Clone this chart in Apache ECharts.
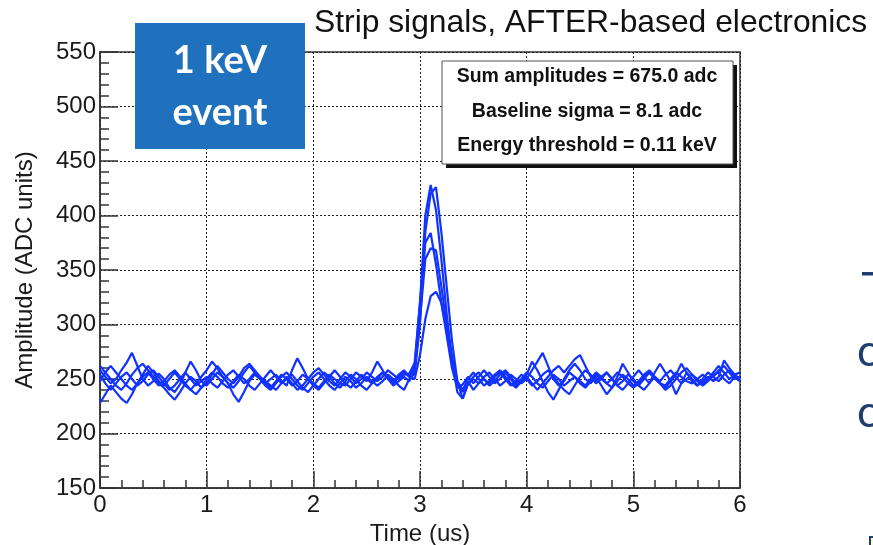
<!DOCTYPE html>
<html>
<head>
<meta charset="utf-8">
<script src="https://cdn.jsdelivr.net/npm/echarts@6/dist/echarts.min.js"></script>
<style>
html,body{margin:0;padding:0;background:#fff;}
#chart{width:873px;height:545px;}
</style>
</head>
<body>
<div id="chart"></div>
<script>
// Sampling step of the digitised strip signals (us)
const sampleStep = 0.05;
const xTicks = [0, 1, 2, 3, 4, 5, 6];
const yTicks = [150, 200, 250, 300, 350, 400, 450, 500, 550];

const stripA = [258,252,246,250,258,265,274,262,250,244, 248,255,250,242,238,245,256,266,258,248,
  244,250,256,252,246,242,248,256,262,256, 250,246,250,254,248,244,258,269,260,250,
  246,242,248,254,250,246,244,250,256,252, 248,256,266,258,250,246,252,256,
  252,262,320,400,428,405,360,310,268,238,232,246,
  250,246,252,256,250,244,248,254,250,246, 250,258,266,274,262,250,244,248,256,252,
  246,242,248,254,250,246,250,256,252,246, 242,246,252,256,250,246,244,250,256,252,
  248,246,250,254,250,252,258,262,256,250, 252];
const stripB = [228,236,244,238,232,228,236,246,254,262, 256,248,244,250,256,250,244,240,246,252,
  258,266,260,252,246,236,229,238,248,254, 250,244,240,246,252,256,250,244,240,246,
  252,256,250,244,240,246,252,248,242,246, 252,248,244,248,254,250,244,240,
  250,255,300,385,420,426,385,335,285,248,240,250,
  256,250,244,248,254,258,252,246,242,248, 254,266,258,248,238,231,240,250,258,264,
  258,250,246,252,244,236,242,252,264,256, 248,244,250,256,252,246,240,244,250,256,
  260,254,248,244,248,254,256,250,246,252, 248];
const stripC = [262,256,250,244,240,246,254,260,264,258, 252,246,242,236,231,238,246,252,248,242,
  246,254,262,256,250,246,252,260,264,258, 252,248,244,240,246,252,246,240,244,250,
  256,260,254,248,244,250,256,252,246,250, 256,252,248,252,258,254,250,254,
  255,265,320,375,384,355,320,290,260,242,245,252,
  246,252,258,252,246,250,256,250,244,248, 252,246,240,246,252,258,262,256,262,268,
  272,262,252,246,250,256,250,244,240,246, 252,258,252,246,256,264,256,248,236,246,
  256,250,244,248,252,248,252,267,260,254, 256];
const stripD = [248,256,262,256,250,244,240,246,252,256, 250,244,248,254,258,252,246,240,236,242,
  250,256,252,246,242,248,254,250,244,240, 246,252,258,252,246,250,254,248,242,238,
  244,250,256,252,246,242,248,254,250,244, 240,246,252,256,250,244,248,252,
  248,258,305,360,370,368,335,300,268,246,238,248,
  240,246,250,246,252,256,250,244,248,254, 250,244,248,254,258,252,246,240,236,244,
  252,258,254,248,252,256,250,244,248,254, 250,244,240,246,252,248,254,258,252,246,
  250,254,250,246,250,256,262,256,250,254, 250];
const stripE = [254,246,240,246,252,256,250,244,248,254, 258,252,246,240,244,250,256,250,244,248,
  252,246,242,248,254,258,252,246,250,256, 252,246,242,248,254,250,244,248,254,250,
  244,240,246,252,258,252,246,242,248,254, 250,246,250,256,252,248,254,258,
  252,250,272,305,326,330,320,295,270,248,232,245,
  252,256,250,244,248,254,258,252,246,250, 256,252,246,242,248,254,250,244,248,252,
  248,244,250,256,252,246,242,248,254,250, 244,248,254,258,252,246,242,248,254,264,
  256,248,244,250,256,252,248,254,258,252, 248];

const strips = [stripA, stripB, stripC, stripD, stripE];

const titleText = 'Strip signals, AFTER-based electronics';
const boxLines = ['Sum amplitudes = 675.0 adc', 'Baseline sigma = 8.1 adc', 'Energy threshold = 0.11 keV'];

const chart = echarts.init(document.getElementById('chart'));
const FONT = '"Liberation Sans", Arial, sans-serif';
const SLIDE = 'Lato, "Open Sans", sans-serif';

const option = {
  backgroundColor: '#ffffff',
  animation: false,
  grid: { left: 100, right: 133, top: 52, bottom: 57, containLabel: false, outerBoundsMode: 'none',
    show: true, borderColor: '#333', borderWidth: 1.5, backgroundColor: 'transparent' },
  xAxis: {
    type: 'value', min: xTicks[0], max: xTicks[xTicks.length - 1], interval: 1,
    name: 'Time (us)', nameLocation: 'middle', nameGap: 33,
    nameTextStyle: { fontFamily: FONT, fontSize: 24, color: '#1a1a1a' },
    axisLine: { show: true, lineStyle: { color: '#333', width: 1.5 } },
    axisTick: { show: true, inside: true, length: 17, lineStyle: { color: '#333', width: 1.5 } },
    minorTick: { show: true, splitNumber: 5, length: 8, lineStyle: { color: '#333', width: 1.5 } },
    axisLabel: { fontFamily: FONT, fontSize: 24, color: '#1a1a1a', margin: 5 },
    splitLine: { show: true, lineStyle: { color: '#222', type: [2, 2], width: 1 } }
  },
  yAxis: {
    type: 'value', min: yTicks[0], max: yTicks[yTicks.length - 1], interval: 50,
    name: 'Amplitude (ADC units)', nameLocation: 'middle', nameGap: 63, nameRotate: 90,
    nameTextStyle: { fontFamily: FONT, fontSize: 24, color: '#1a1a1a' },
    axisLine: { show: true, lineStyle: { color: '#333', width: 1.5 } },
    axisTick: { show: true, inside: true, length: 18, lineStyle: { color: '#333', width: 1.5 } },
    minorTick: { show: true, splitNumber: 5, length: 9, lineStyle: { color: '#333', width: 1.5 } },
    axisLabel: { fontFamily: FONT, fontSize: 24, color: '#1a1a1a', margin: 4 },
    splitLine: { show: true, lineStyle: { color: '#222', type: [2, 2], width: 1 } }
  },
  series: strips.map((s, k) => ({
    type: 'line',
    name: 'strip' + k,
    showSymbol: false,
    smooth: false,
    data: s.map((v, i) => [i * sampleStep, v]),
    lineStyle: { color: '#1232ff', width: 2.2 },
    z: 3
  })),
  graphic: [
    { type: 'text', left: 314, top: 7, style: { text: titleText, font: '31.8px ' + FONT, fill: '#111' }, z: 10 },
    { type: 'rect', shape: { x: 135, y: 23, width: 170, height: 126 }, style: { fill: '#1f70bd' }, z: 10 },
    { type: 'text', x: 220, y: 61, style: { text: '1 keV', font: 'bold 38px ' + SLIDE, fill: '#fff', align: 'center', verticalAlign: 'middle' }, z: 11 },
    { type: 'text', x: 220, y: 113, style: { text: 'event', font: 'bold 38px ' + SLIDE, fill: '#fff', align: 'center', verticalAlign: 'middle' }, z: 11 },
    { type: 'rect', shape: { x: 446, y: 65, width: 291, height: 103 }, style: { fill: '#111' }, z: 10 },
    { type: 'rect', shape: { x: 442, y: 61, width: 291, height: 103 }, style: { fill: '#fff', stroke: '#555', lineWidth: 1 }, z: 11 },
    { type: 'text', x: 587, y: 77, style: { text: boxLines[0], font: 'bold 19.5px ' + FONT, fill: '#111', align: 'center', verticalAlign: 'middle' }, z: 12 },
    { type: 'text', x: 587, y: 112, style: { text: boxLines[1], font: 'bold 19.5px ' + FONT, fill: '#111', align: 'center', verticalAlign: 'middle' }, z: 12 },
    { type: 'text', x: 587, y: 146, style: { text: boxLines[2], font: 'bold 19.5px ' + FONT, fill: '#111', align: 'center', verticalAlign: 'middle' }, z: 12 },
    { type: 'rect', shape: { x: 862, y: 272, width: 14, height: 3.5 }, style: { fill: '#1f3d6e' }, z: 10 },
    { type: 'text', x: 857, y: 352, style: { text: 'c', font: '44px ' + SLIDE, fill: '#1f3d6e', verticalAlign: 'middle' }, z: 10 },
    { type: 'text', x: 857, y: 413, style: { text: 'c', font: '44px ' + SLIDE, fill: '#1f3d6e', verticalAlign: 'middle' }, z: 10 },
    { type: 'rect', shape: { x: 870, y: 537, width: 12, height: 20 }, style: { fill: '#ffffc0', stroke: '#1f3d6e', lineWidth: 2 }, z: 10 }
  ]
};
chart.setOption(option);
</script>
</body>
</html>
